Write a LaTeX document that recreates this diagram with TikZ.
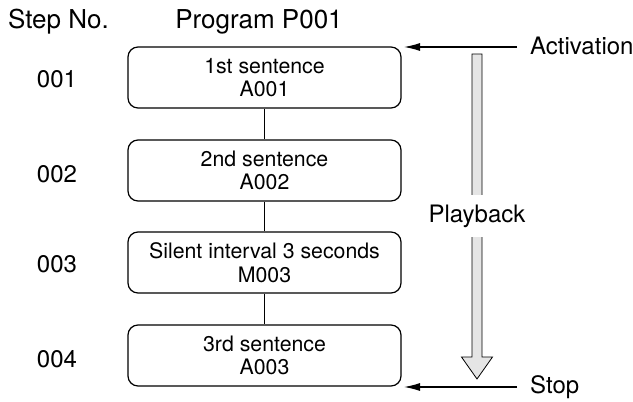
\documentclass[tikz,border=0pt]{standalone}
\usepackage{fontspec}
\setmainfont{TeX Gyre Heros}
\usetikzlibrary{arrows.meta}
\begin{document}
\begin{tikzpicture}[x=1pt,y=-1pt,
  stepbox/.style={draw, line width=1.2pt, rounded corners=10pt, minimum width=273pt, minimum height=61pt, align=center, inner sep=0pt, font=\fontsize{21.3}{23.5}\selectfont},
  lbl/.style={font=\fontsize{24}{28}\selectfont, inner sep=0pt},
  hdr/.style={font=\fontsize{26}{30}\selectfont, inner sep=0pt},
  link/.style={line width=1.2pt},
  ptr/.style={line width=1.2pt, -{Latex[length=16pt,width=8pt]}}]
\useasboundingbox (0,0) rectangle (633,402);
% playback arrow
\draw[line width=0.8pt, fill=black!10] (472,54) -- (482,54) -- (482,357) -- (492.5,357) -- (477,379) -- (461.5,357) -- (472,357) -- cycle;
\node[lbl, fill=white, inner xsep=2pt, inner ysep=10pt] (pb) at (477,216) {Playback};
% headers
\node[hdr, anchor=base west] (hstep) at (8,28) {Step No.};
\node[hdr, anchor=base] (hprog) at (259,28) {Program P001};
% boxes
\node[stepbox] (b1) at (264.5,77.5) {1st sentence\\A001};
\node[stepbox] (b2) at (264.5,170.5) {2nd sentence\\A002};
\node[stepbox] (b3) at (264.5,262.5) {Silent interval 3 seconds\\M003};
\node[stepbox] (b4) at (264.5,355.5) {3rd sentence\\A003};
\draw[link] (b1) -- (b2);
\draw[link] (b2) -- (b3);
\draw[link] (b3) -- (b4);
% step numbers
\node[lbl] (s1) at (57,79) {001};
\node[lbl] (s2) at (57,174) {002};
\node[lbl] (s3) at (57,264) {003};
\node[lbl] (s4) at (57,359) {004};
% activation / stop
\node[lbl, anchor=base west] (act) at (530,54) {Activation};
\node[lbl, anchor=base west] (stop) at (530,393) {Stop};
\coordinate (a1) at (517,47);
\coordinate (a2) at (404,47);
\coordinate (t1) at (517,387);
\coordinate (t2) at (404,387);
\draw[ptr] (a1) -- (a2);
\draw[ptr] (t1) -- (t2);
\end{tikzpicture}
\end{document}
